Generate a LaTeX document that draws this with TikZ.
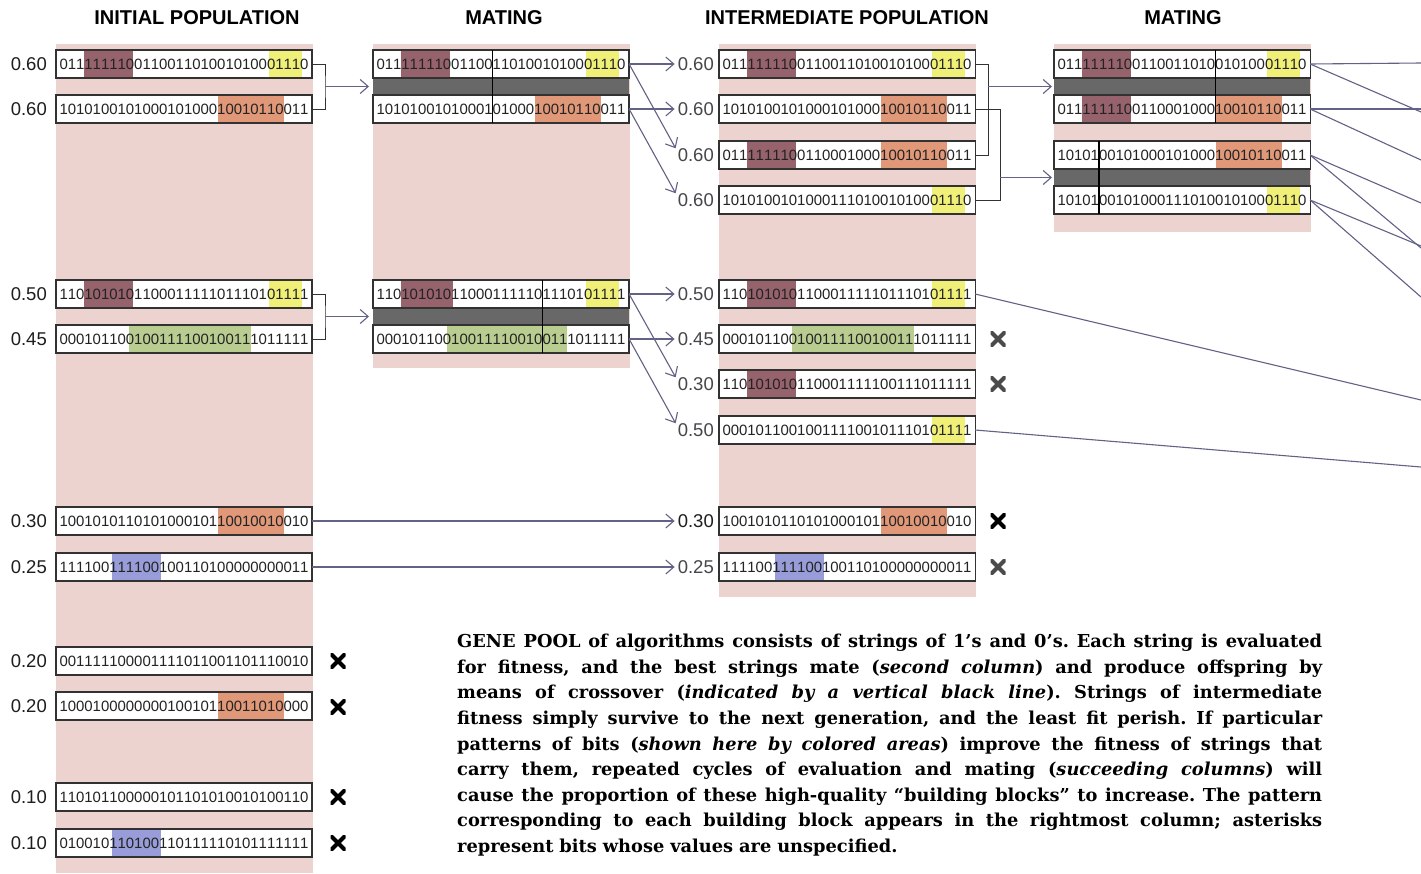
\documentclass[tikz,border=0pt]{standalone}
\usepackage{fontspec}
\setmainfont{DejaVu Serif}
\newfontfamily\sansf{Liberation Sans}
\usetikzlibrary{arrows.meta}
\definecolor{pinkbg}{RGB}{236,211,207}
\definecolor{mauve}{RGB}{150,98,108}
\definecolor{yel}{RGB}{240,240,120}
\definecolor{ora}{RGB}{224,152,120}
\definecolor{grn}{RGB}{186,205,145}
\definecolor{blu}{RGB}{152,156,216}
\definecolor{bandc}{RGB}{104,104,104}
\definecolor{linec}{RGB}{98,98,135}
\definecolor{boxc}{RGB}{50,50,50}
\definecolor{bitc}{RGB}{35,35,35}
\definecolor{labc}{RGB}{30,30,30}
\definecolor{labg}{RGB}{70,70,75}
\definecolor{xg}{RGB}{75,75,75}
\pgfdeclarelayer{back}
\pgfdeclarelayer{mid}
\pgfsetlayers{back,mid,main}
\tikzset{
 bitstr/.style={draw=boxc, line width=1.2pt, outer sep=0pt, inner xsep=3.5pt, inner ysep=0pt, minimum height=28pt, anchor=west, text=bitc, font=\sansf\fontsize{14.93}{16}\selectfont},
 lab/.style={anchor=east, inner sep=1pt, text=labc, font=\sansf\fontsize{18.5}{20}\selectfont},
 labi/.style={lab, text=labg},
 hdr/.style={inner sep=0pt, font=\sansf\bfseries\fontsize{20}{22}\selectfont},
 brk/.style={draw=boxc, line width=1pt},
 conn/.style={draw=linec, line width=1.1pt},
 arr/.style={conn, -{Straight Barb[length=8pt,width=14pt]}, shorten >=2pt},
 crossl/.style={draw=black, line width=1.1pt},
 xm/.style={minimum size=15pt, inner sep=0pt, path picture={\draw[line width=4.2pt, draw=#1] (path picture bounding box.south west) -- (path picture bounding box.north east) (path picture bounding box.north west) -- (path picture bounding box.south east);}},
 xm/.default=black,
 captxt/.style={anchor=north west, inner sep=0pt, text width=865pt, align=left, font=\bfseries\fontsize{17.8}{25.6}\selectfont},
}
\def\bitsaux#1{\ifx\relax#1\else\makebox[8.303pt]{#1}\expandafter\bitsaux\fi}
\newcommand\bits[1]{\bitsaux#1\relax}
\newcommand\jl[1]{\leavevmode\hbox to 865pt{\spaceskip=0.3em plus 1fil\xspaceskip=0.3em plus 1fil #1}}
\newcommand\bitbox[5]{%
 \node[bitstr] (#1) at (#2,#3) {\bits{#4}};
 \begin{pgfonlayer}{mid}
  \fill[white] (#1.south west) rectangle (#1.north east);
  \foreach \ha/\hb/\hc in {#5}{\fill[\hc] ({#2+3.5+\ha*8.303},{#3-14}) rectangle ({#2+3.5+\hb*8.303},{#3+14});}
 \end{pgfonlayer}}
\newcommand\matepair[9]{%
 \bitbox{#1}{#3}{#4}{#5}{#6}%
 \bitbox{#2}{#3}{#4+45}{#7}{#8}%
 \begin{pgfonlayer}{mid}\fill[bandc] (#1.south west) rectangle (#2.north east);\end{pgfonlayer}
 \draw[crossl] ({#3+3.5+#9*8.303},{#4-14}) -- ({#3+3.5+#9*8.303},{#4+59});}
\begin{document}
\begin{tikzpicture}[x=1pt,y=-1pt]
\useasboundingbox (0,0) rectangle (1421,873);
\begin{pgfonlayer}{back}
 \fill[white] (0,0) rectangle (1421,873);
 \fill[pinkbg] (56,44) rectangle (313,873);
 \fill[pinkbg] (373,44) rectangle (630,368);
 \fill[pinkbg] (719,44) rectangle (976,597);
 \fill[pinkbg] (1054,44) rectangle (1311,232);
\end{pgfonlayer}
% headers
\node[hdr] (h1) at (197,18) {INITIAL POPULATION};
\node[hdr] (h2) at (504,18) {MATING};
\node[hdr] (h3) at (847,18) {INTERMEDIATE POPULATION};
\node[hdr] (h4) at (1183,18) {MATING};
% column 1
\node[lab] (a1) at (48,64) {0.60};
\bitbox{c1}{56}{64}{011111110011001101001010001110}{3/8.9/mauve,25.2/29.2/yel}
\node[lab] (a2) at (48,109) {0.60};
\bitbox{c2}{56}{109}{101010010100010100010010110011}{19.1/27/ora}
\node[lab] (a3) at (48,294) {0.50};
\bitbox{c3}{56}{294}{110101010110001111101110101111}{3/8.9/mauve,25.2/29.2/yel}
\node[lab] (a4) at (48,339) {0.45};
\bitbox{c4}{56}{339}{000101100100111100100111011111}{8.4/23.1/grn}
\node[lab] (a5) at (48,521) {0.30};
\bitbox{c5}{56}{521}{100101011010100010110010010010}{19.1/27/ora}
\node[lab] (a6) at (48,567) {0.25};
\bitbox{c6}{56}{567}{111100111100100110100000000011}{6.3/12.2/blu}
\node[lab] (a7) at (48,661) {0.20};
\bitbox{c7}{56}{661}{001111100001111011001101110010}{0/0/white}
\node[lab] (a8) at (48,706) {0.20};
\bitbox{c8}{56}{706}{100010000000010010110011010000}{19.1/27/ora}
\node[lab] (a9) at (48,797) {0.10};
\bitbox{c9}{56}{797}{110101100000101101010010100110}{0/0/white}
\node[lab] (a10) at (48,843) {0.10};
\bitbox{c10}{56}{843}{010010110100110111110101111111}{6.3/12.2/blu}
\node[xm] (x1) at (338,661) {};
\node[xm] (x2) at (338,707) {};
\node[xm] (x3) at (338,797) {};
\node[xm] (x4) at (338,843) {};
% column 2 (mating)
\matepair{m1a}{m1b}{373}{64}{011111110011001101001010001110}{3/8.9/mauve,25.2/29.2/yel}{101010010100010100010010110011}{19.1/27/ora}{14}
\matepair{m2a}{m2b}{373}{294}{110101010110001111101110101111}{3/9.2/mauve,25.2/29.2/yel}{000101100100111100100111011111}{8.5/23/grn}{20}
% column 3 (intermediate)
\node[labi] (l1) at (715,64) {0.60};
\bitbox{i1}{719}{64}{011111110011001101001010001110}{3/8.9/mauve,25.2/29.2/yel}
\node[labi] (l2) at (715,109) {0.60};
\bitbox{i2}{719}{109}{101010010100010100010010110011}{19.1/27/ora}
\node[labi] (l3) at (715,155) {0.60};
\bitbox{i3}{719}{155}{011111110011000100010010110011}{3/8.9/mauve,19.1/27/ora}
\node[labi] (l4) at (715,200) {0.60};
\bitbox{i4}{719}{200}{101010010100011101001010001110}{25.2/29.2/yel}
\node[labi] (l5) at (715,294) {0.50};
\bitbox{i5}{719}{294}{110101010110001111101110101111}{3/8.9/mauve,25.2/29.2/yel}
\node[labi] (l6) at (715,339) {0.45};
\bitbox{i6}{719}{339}{000101100100111100100111011111}{8.4/23.1/grn}
\node[labi] (l7) at (715,384) {0.30};
\bitbox{i7}{719}{384}{110101010110001111100111011111}{3/8.9/mauve}
\node[labi] (l8) at (715,430) {0.50};
\bitbox{i8}{719}{430}{000101100100111100101110101111}{25.2/29.2/yel}
\node[lab] (l9) at (715,521) {0.30};
\bitbox{i9}{719}{521}{100101011010100010110010010010}{19.1/27/ora}
\node[labi] (l10) at (715,567) {0.25};
\bitbox{i10}{719}{567}{111100111100100110100000000011}{6.3/12.2/blu}
\node[xm=xg] (x5) at (998,339) {};
\node[xm=xg] (x6) at (998,384) {};
\node[xm] (x7) at (998,521) {};
\node[xm=xg] (x8) at (998,567) {};
% column 4 (mating)
\matepair{n1a}{n1b}{1054}{64}{011111110011001101001010001110}{3/8.9/mauve,25.2/29.2/yel}{011111110011000100010010110011}{3/8.9/mauve,19.1/27/ora}{19}
\matepair{n2a}{n2b}{1054}{155}{101010010100010100010010110011}{19.1/27/ora}{101010010100011101001010001110}{25.2/29.2/yel}{5}
% connectors col1 -> col2
\coordinate (b1) at (325,86.5);
\coordinate (b2) at (325,316.5);
\draw[brk] (c1.east) -| (b1) |- (c2.east);
\draw[brk] (c3.east) -| (b2) |- (c4.east);
\draw[arr, shorten >=4pt] (b1) -- (m1a.west |- b1);
\draw[arr, shorten >=4pt] (b2) -- (m2a.west |- b2);
% col2 -> col3
\draw[arr] (m1a.east) -- (l1.west);
\draw[arr] (m1b.east) -- (l2.west);
\draw[arr] (m1a.east) -- ([yshift=5pt]l3.west);
\draw[arr] (m1b.east) -- ([yshift=5pt]l4.west);
\draw[arr] (m2a.east) -- (l5.west);
\draw[arr] (m2b.east) -- (l6.west);
\draw[arr] (m2a.east) -- ([yshift=5pt]l7.west);
\draw[arr] (m2b.east) -- ([yshift=5pt]l8.west);
% col1 -> col3
\draw[arr] (c5.east) -- (l9.west);
\draw[arr] (c6.east) -- (l10.west);
% col3 -> col4
\coordinate (b3) at (988,86.5);
\coordinate (b4) at (1000,177.5);
\draw[brk] (i1.east) -| (b3) |- (i3.east);
\draw[brk] (i2.east) -| (b4) |- (i4.east);
\draw[arr] (b3) -- (n1a.west |- b3);
\draw[arr] (b4) -- (n2a.west |- b4);
% col4 -> beyond
\coordinate (e1) at (1421,63);
\coordinate (e2) at (1421,112);
\coordinate (e3) at (1421,109);
\coordinate (e4) at (1421,160);
\coordinate (e5) at (1421,203);
\coordinate (e6) at (1421,248);
\coordinate (e7) at (1421,246);
\coordinate (e8) at (1421,297);
\coordinate (e9) at (1421,400);
\coordinate (e10) at (1421,467);
\draw[conn] (n1a.east) -- (e1);
\draw[conn] (n1a.east) -- (e2);
\draw[conn] (n1b.east) -- (e3);
\draw[conn] (n1b.east) -- (e4);
\draw[conn] (n2a.east) -- (e5);
\draw[conn] (n2a.east) -- (e6);
\draw[conn] (n2b.east) -- (e7);
\draw[conn] (n2b.east) -- (e8);
\draw[conn] (i5.east) -- (e9);
\draw[conn] (i8.east) -- (e10);
% caption
\node[captxt] (cap) at (457,634) {\frenchspacing
\jl{GENE POOL of algorithms consists of strings of 1’s and 0’s. Each string is evaluated}\\
\jl{for fitness, and the best strings mate (\textit{second column}) and produce offspring by}\\
\jl{means of crossover (\textit{indicated by a vertical black line}). Strings of intermediate}\\
\jl{fitness simply survive to the next generation, and the least fit perish. If particular}\\
\jl{patterns of bits (\textit{shown here by colored areas}) improve the fitness of strings that}\\
\jl{carry them, repeated cycles of evaluation and mating (\textit{succeeding columns}) will}\\
\jl{cause the proportion of these high-quality “building blocks” to increase. The pattern}\\
\jl{corresponding to each building block appears in the rightmost column; asterisks}\\
represent bits whose values are unspecified.};
\end{tikzpicture}
\end{document}
